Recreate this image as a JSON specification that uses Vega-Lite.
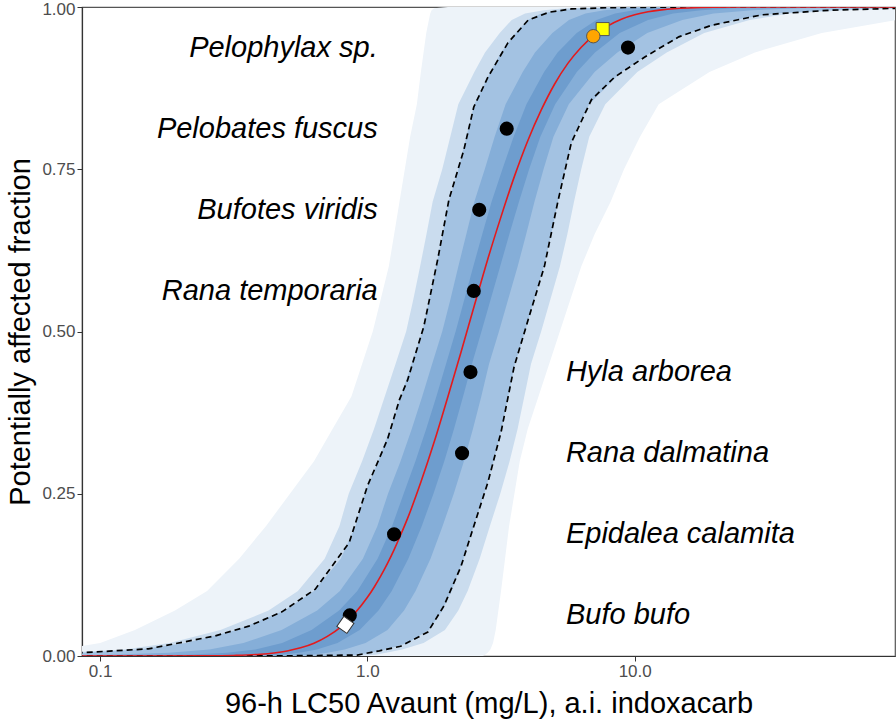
{
  "$schema": "https://vega.github.io/schema/vega-lite/v6.json",
  "width": 813,
  "height": 649,
  "autosize": {"type": "none"},
  "padding": {"left": 82, "top": 7, "right": 1, "bottom": 69},
  "background": "white",
  "config": {
    "view": {"stroke": "#555555", "strokeWidth": 1.2},
    "axis": {
      "grid": false,
      "domainColor": "#333333",
      "domainWidth": 1.2,
      "tickColor": "#333333",
      "tickSize": 5,
      "labelColor": "#4d4d4d",
      "labelFont": "Liberation Sans",
      "labelFontSize": 17,
      "labelPadding": 2,
      "titleFont": "Liberation Sans",
      "titleFontSize": 29,
      "titleFontWeight": "normal",
      "titleColor": "#000000"
    }
  },
  "datasets": {
    "bands": [
      {"band": "b1", "p": 0, "lo": 0.05, "hi": 2.7},
      {"band": "b1", "p": 0.002, "lo": 0.0398, "hi": 2.754},
      {"band": "b1", "p": 0.005, "lo": 0.0398, "hi": 2.818},
      {"band": "b1", "p": 0.01, "lo": 0.0708, "hi": 2.884},
      {"band": "b1", "p": 0.02, "lo": 0.1, "hi": 2.951},
      {"band": "b1", "p": 0.04, "lo": 0.1349, "hi": 3.02},
      {"band": "b1", "p": 0.07, "lo": 0.1905, "hi": 3.09},
      {"band": "b1", "p": 0.1, "lo": 0.2512, "hi": 3.162},
      {"band": "b1", "p": 0.15, "lo": 0.3311, "hi": 3.273},
      {"band": "b1", "p": 0.2, "lo": 0.4169, "hi": 3.388},
      {"band": "b1", "p": 0.25, "lo": 0.5129, "hi": 3.548},
      {"band": "b1", "p": 0.3, "lo": 0.631, "hi": 3.715},
      {"band": "b1", "p": 0.35, "lo": 0.7413, "hi": 3.981},
      {"band": "b1", "p": 0.4, "lo": 0.871, "hi": 4.365},
      {"band": "b1", "p": 0.45, "lo": 0.955, "hi": 4.786},
      {"band": "b1", "p": 0.5, "lo": 1.047, "hi": 5.248},
      {"band": "b1", "p": 0.55, "lo": 1.122, "hi": 5.754},
      {"band": "b1", "p": 0.6, "lo": 1.202, "hi": 6.31},
      {"band": "b1", "p": 0.65, "lo": 1.259, "hi": 7.079},
      {"band": "b1", "p": 0.7, "lo": 1.318, "hi": 8.128},
      {"band": "b1", "p": 0.75, "lo": 1.38, "hi": 9.12},
      {"band": "b1", "p": 0.8, "lo": 1.445, "hi": 10.47},
      {"band": "b1", "p": 0.85, "lo": 1.531, "hi": 12.3},
      {"band": "b1", "p": 0.9, "lo": 1.585, "hi": 19.05},
      {"band": "b1", "p": 0.93, "lo": 1.622, "hi": 28.18},
      {"band": "b1", "p": 0.96, "lo": 1.66, "hi": 50.12},
      {"band": "b1", "p": 0.98, "lo": 1.698, "hi": 95.5},
      {"band": "b1", "p": 0.99, "lo": 1.718, "hi": 158.5},
      {"band": "b1", "p": 0.995, "lo": 1.738, "hi": 199.5},
      {"band": "b1", "p": 0.998, "lo": 1.778, "hi": 251.2},
      {"band": "b1", "p": 1, "lo": 2.0, "hi": 300},

      {"band": "b2", "p": 0, "lo": 0.05, "hi": 0.912},
      {"band": "b2", "p": 0.002, "lo": 0.0347, "hi": 1.072},
      {"band": "b2", "p": 0.005, "lo": 0.0741, "hi": 1.175},
      {"band": "b2", "p": 0.01, "lo": 0.123, "hi": 1.349},
      {"band": "b2", "p": 0.02, "lo": 0.182, "hi": 1.622},
      {"band": "b2", "p": 0.04, "lo": 0.2818, "hi": 1.95},
      {"band": "b2", "p": 0.07, "lo": 0.4266, "hi": 2.188},
      {"band": "b2", "p": 0.1, "lo": 0.5495, "hi": 2.371},
      {"band": "b2", "p": 0.15, "lo": 0.6918, "hi": 2.63},
      {"band": "b2", "p": 0.2, "lo": 0.7852, "hi": 2.871},
      {"band": "b2", "p": 0.25, "lo": 0.8511, "hi": 3.141},
      {"band": "b2", "p": 0.3, "lo": 0.955, "hi": 3.404},
      {"band": "b2", "p": 0.35, "lo": 1.059, "hi": 3.648},
      {"band": "b2", "p": 0.4, "lo": 1.161, "hi": 3.864},
      {"band": "b2", "p": 0.45, "lo": 1.274, "hi": 4.093},
      {"band": "b2", "p": 0.5, "lo": 1.396, "hi": 4.467},
      {"band": "b2", "p": 0.55, "lo": 1.486, "hi": 4.842},
      {"band": "b2", "p": 0.6, "lo": 1.574, "hi": 5.248},
      {"band": "b2", "p": 0.65, "lo": 1.663, "hi": 5.598},
      {"band": "b2", "p": 0.7, "lo": 1.754, "hi": 5.929},
      {"band": "b2", "p": 0.75, "lo": 1.905, "hi": 6.31},
      {"band": "b2", "p": 0.8, "lo": 2.042, "hi": 6.761},
      {"band": "b2", "p": 0.85, "lo": 2.188, "hi": 7.762},
      {"band": "b2", "p": 0.9, "lo": 2.512, "hi": 10.23},
      {"band": "b2", "p": 0.93, "lo": 2.754, "hi": 13.18},
      {"band": "b2", "p": 0.96, "lo": 3.126, "hi": 18.2},
      {"band": "b2", "p": 0.98, "lo": 3.467, "hi": 26.92},
      {"band": "b2", "p": 0.99, "lo": 3.89, "hi": 38.02},
      {"band": "b2", "p": 0.995, "lo": 4.571, "hi": 61.66},
      {"band": "b2", "p": 0.998, "lo": 5.495, "hi": 109.6},
      {"band": "b2", "p": 1, "lo": 8.9, "hi": 300},

      {"band": "b3", "p": 0, "lo": 0.05, "hi": 0.794},
      {"band": "b3", "p": 0.002, "lo": 0.0398, "hi": 0.933},
      {"band": "b3", "p": 0.005, "lo": 0.0851, "hi": 1.023},
      {"band": "b3", "p": 0.01, "lo": 0.1413, "hi": 1.175},
      {"band": "b3", "p": 0.02, "lo": 0.2089, "hi": 1.413},
      {"band": "b3", "p": 0.04, "lo": 0.3236, "hi": 1.698},
      {"band": "b3", "p": 0.07, "lo": 0.4898, "hi": 1.905},
      {"band": "b3", "p": 0.1, "lo": 0.631, "hi": 2.065},
      {"band": "b3", "p": 0.15, "lo": 0.7943, "hi": 2.291},
      {"band": "b3", "p": 0.2, "lo": 0.9016, "hi": 2.5},
      {"band": "b3", "p": 0.25, "lo": 0.9772, "hi": 2.735},
      {"band": "b3", "p": 0.3, "lo": 1.0965, "hi": 2.965},
      {"band": "b3", "p": 0.35, "lo": 1.216, "hi": 3.177},
      {"band": "b3", "p": 0.4, "lo": 1.334, "hi": 3.365},
      {"band": "b3", "p": 0.45, "lo": 1.462, "hi": 3.565},
      {"band": "b3", "p": 0.5, "lo": 1.603, "hi": 3.89},
      {"band": "b3", "p": 0.55, "lo": 1.706, "hi": 4.217},
      {"band": "b3", "p": 0.6, "lo": 1.807, "hi": 4.571},
      {"band": "b3", "p": 0.65, "lo": 1.91, "hi": 4.875},
      {"band": "b3", "p": 0.7, "lo": 2.014, "hi": 5.164},
      {"band": "b3", "p": 0.75, "lo": 2.188, "hi": 5.495},
      {"band": "b3", "p": 0.8, "lo": 2.344, "hi": 5.888},
      {"band": "b3", "p": 0.85, "lo": 2.512, "hi": 6.761},
      {"band": "b3", "p": 0.9, "lo": 2.884, "hi": 8.913},
      {"band": "b3", "p": 0.93, "lo": 3.162, "hi": 11.48},
      {"band": "b3", "p": 0.96, "lo": 3.589, "hi": 15.85},
      {"band": "b3", "p": 0.98, "lo": 3.981, "hi": 23.44},
      {"band": "b3", "p": 0.99, "lo": 4.467, "hi": 33.11},
      {"band": "b3", "p": 0.995, "lo": 5.248, "hi": 53.7},
      {"band": "b3", "p": 0.998, "lo": 6.31, "hi": 95.5},
      {"band": "b3", "p": 1, "lo": 10, "hi": 300},

      {"band": "b4", "p": 0, "lo": 0.05, "hi": 0.447},
      {"band": "b4", "p": 0.002, "lo": 0.109, "hi": 0.618},
      {"band": "b4", "p": 0.005, "lo": 0.181, "hi": 0.71},
      {"band": "b4", "p": 0.01, "lo": 0.2564, "hi": 0.8222},
      {"band": "b4", "p": 0.02, "lo": 0.3436, "hi": 0.984},
      {"band": "b4", "p": 0.04, "lo": 0.4775, "hi": 1.189},
      {"band": "b4", "p": 0.07, "lo": 0.6486, "hi": 1.371},
      {"band": "b4", "p": 0.1, "lo": 0.7889, "hi": 1.514},
      {"band": "b4", "p": 0.15, "lo": 0.9616, "hi": 1.722},
      {"band": "b4", "p": 0.2, "lo": 1.089, "hi": 1.91},
      {"band": "b4", "p": 0.25, "lo": 1.194, "hi": 2.104},
      {"band": "b4", "p": 0.3, "lo": 1.33, "hi": 2.296},
      {"band": "b4", "p": 0.35, "lo": 1.466, "hi": 2.483},
      {"band": "b4", "p": 0.4, "lo": 1.603, "hi": 2.667},
      {"band": "b4", "p": 0.45, "lo": 1.746, "hi": 2.851},
      {"band": "b4", "p": 0.5, "lo": 1.905, "hi": 3.105},
      {"band": "b4", "p": 0.55, "lo": 2.046, "hi": 3.365},
      {"band": "b4", "p": 0.6, "lo": 2.188, "hi": 3.648},
      {"band": "b4", "p": 0.65, "lo": 2.344, "hi": 3.926},
      {"band": "b4", "p": 0.7, "lo": 2.512, "hi": 4.217},
      {"band": "b4", "p": 0.75, "lo": 2.748, "hi": 4.56},
      {"band": "b4", "p": 0.8, "lo": 2.992, "hi": 4.966},
      {"band": "b4", "p": 0.85, "lo": 3.289, "hi": 5.668},
      {"band": "b4", "p": 0.9, "lo": 3.811, "hi": 7.079},
      {"band": "b4", "p": 0.93, "lo": 4.236, "hi": 8.61},
      {"band": "b4", "p": 0.96, "lo": 4.92, "hi": 11.14},
      {"band": "b4", "p": 0.98, "lo": 5.675, "hi": 15.07},
      {"band": "b4", "p": 0.99, "lo": 6.546, "hi": 19.72},
      {"band": "b4", "p": 0.995, "lo": 7.691, "hi": 27.61},
      {"band": "b4", "p": 0.998, "lo": 9.268, "hi": 41.3},
      {"band": "b4", "p": 1, "lo": 20, "hi": 300},

      {"band": "b5", "p": 0, "lo": 0.05, "hi": 0.282},
      {"band": "b5", "p": 0.002, "lo": 0.213, "hi": 0.469},
      {"band": "b5", "p": 0.005, "lo": 0.298, "hi": 0.555},
      {"band": "b5", "p": 0.01, "lo": 0.3811, "hi": 0.6471},
      {"band": "b5", "p": 0.02, "lo": 0.4797, "hi": 0.7727},
      {"band": "b5", "p": 0.04, "lo": 0.618, "hi": 0.9354},
      {"band": "b5", "p": 0.07, "lo": 0.7834, "hi": 1.1},
      {"band": "b5", "p": 0.1, "lo": 0.9162, "hi": 1.233},
      {"band": "b5", "p": 0.15, "lo": 1.0914, "hi": 1.422},
      {"band": "b5", "p": 0.2, "lo": 1.236, "hi": 1.596},
      {"band": "b5", "p": 0.25, "lo": 1.366, "hi": 1.766},
      {"band": "b5", "p": 0.3, "lo": 1.512, "hi": 1.939},
      {"band": "b5", "p": 0.35, "lo": 1.66, "hi": 2.109},
      {"band": "b5", "p": 0.4, "lo": 1.811, "hi": 2.28},
      {"band": "b5", "p": 0.45, "lo": 1.968, "hi": 2.46},
      {"band": "b5", "p": 0.5, "lo": 2.138, "hi": 2.671},
      {"band": "b5", "p": 0.55, "lo": 2.307, "hi": 2.894},
      {"band": "b5", "p": 0.6, "lo": 2.489, "hi": 3.137},
      {"band": "b5", "p": 0.65, "lo": 2.689, "hi": 3.396},
      {"band": "b5", "p": 0.7, "lo": 2.914, "hi": 3.69},
      {"band": "b5", "p": 0.75, "lo": 3.199, "hi": 4.027},
      {"band": "b5", "p": 0.8, "lo": 3.524, "hi": 4.436},
      {"band": "b5", "p": 0.85, "lo": 3.936, "hi": 5.041},
      {"band": "b5", "p": 0.9, "lo": 4.581, "hi": 6.074},
      {"band": "b5", "p": 0.93, "lo": 5.146, "hi": 7.104},
      {"band": "b5", "p": 0.96, "lo": 6.067, "hi": 8.79},
      {"band": "b5", "p": 0.98, "lo": 7.194, "hi": 11.22},
      {"band": "b5", "p": 0.99, "lo": 8.453, "hi": 13.93},
      {"band": "b5", "p": 0.995, "lo": 9.908, "hi": 17.73},
      {"band": "b5", "p": 0.998, "lo": 11.99, "hi": 23.66},
      {"band": "b5", "p": 1, "lo": 31.6, "hi": 300}
    ],
    "curves": [
      {"curve": "upper", "x": 0.0631, "p": 0.003},
      {"curve": "upper", "x": 0.0851, "p": 0.005},
      {"curve": "upper", "x": 0.1514, "p": 0.011},
      {"curve": "upper", "x": 0.2692, "p": 0.031},
      {"curve": "upper", "x": 0.3597, "p": 0.046},
      {"curve": "upper", "x": 0.4786, "p": 0.068},
      {"curve": "upper", "x": 0.6383, "p": 0.103},
      {"curve": "upper", "x": 0.8551, "p": 0.175},
      {"curve": "upper", "x": 1.0, "p": 0.262},
      {"curve": "upper", "x": 1.189, "p": 0.334},
      {"curve": "upper", "x": 1.318, "p": 0.395},
      {"curve": "upper", "x": 1.413, "p": 0.425},
      {"curve": "upper", "x": 1.626, "p": 0.508},
      {"curve": "upper", "x": 1.832, "p": 0.611},
      {"curve": "upper", "x": 2.018, "p": 0.703},
      {"curve": "upper", "x": 2.296, "p": 0.78},
      {"curve": "upper", "x": 2.5, "p": 0.846},
      {"curve": "upper", "x": 2.825, "p": 0.892},
      {"curve": "upper", "x": 3.357, "p": 0.945},
      {"curve": "upper", "x": 3.999, "p": 0.98},
      {"curve": "upper", "x": 4.786, "p": 0.992},
      {"curve": "upper", "x": 5.794, "p": 0.997},
      {"curve": "upper", "x": 7.943, "p": 0.999},
      {"curve": "upper", "x": 15.85, "p": 1.0},
      {"curve": "upper", "x": 100, "p": 1.0},

      {"curve": "lower", "x": 0.0631, "p": 0.0},
      {"curve": "lower", "x": 0.501, "p": 0.0003},
      {"curve": "lower", "x": 0.916, "p": 0.0015},
      {"curve": "lower", "x": 1.109, "p": 0.008},
      {"curve": "lower", "x": 1.33, "p": 0.015},
      {"curve": "lower", "x": 1.683, "p": 0.037},
      {"curve": "lower", "x": 1.932, "p": 0.077},
      {"curve": "lower", "x": 2.239, "p": 0.138},
      {"curve": "lower", "x": 2.5, "p": 0.2},
      {"curve": "lower", "x": 2.825, "p": 0.268},
      {"curve": "lower", "x": 3.162, "p": 0.345},
      {"curve": "lower", "x": 3.54, "p": 0.446},
      {"curve": "lower", "x": 4.102, "p": 0.534},
      {"curve": "lower", "x": 4.592, "p": 0.6},
      {"curve": "lower", "x": 5.176, "p": 0.703},
      {"curve": "lower", "x": 5.794, "p": 0.791},
      {"curve": "lower", "x": 6.887, "p": 0.857},
      {"curve": "lower", "x": 8.414, "p": 0.892},
      {"curve": "lower", "x": 10.91, "p": 0.923},
      {"curve": "lower", "x": 14.62, "p": 0.954},
      {"curve": "lower", "x": 19.45, "p": 0.972},
      {"curve": "lower", "x": 29.99, "p": 0.988},
      {"curve": "lower", "x": 53.58, "p": 0.995},
      {"curve": "lower", "x": 94.84, "p": 0.998},
      {"curve": "lower", "x": 125.9, "p": 0.999},

      {"curve": "median", "x": 0.0851, "p": 0.0},
      {"curve": "median", "x": 0.1585, "p": 0.00001},
      {"curve": "median", "x": 0.2512, "p": 0.0002},
      {"curve": "median", "x": 0.3162, "p": 0.00085},
      {"curve": "median", "x": 0.3981, "p": 0.0027},
      {"curve": "median", "x": 0.4467, "p": 0.0047},
      {"curve": "median", "x": 0.5012, "p": 0.0078},
      {"curve": "median", "x": 0.5623, "p": 0.0126},
      {"curve": "median", "x": 0.631, "p": 0.0197},
      {"curve": "median", "x": 0.7079, "p": 0.0302},
      {"curve": "median", "x": 0.7943, "p": 0.0446},
      {"curve": "median", "x": 0.8913, "p": 0.0645},
      {"curve": "median", "x": 1.0, "p": 0.0904},
      {"curve": "median", "x": 1.0593, "p": 0.106},
      {"curve": "median", "x": 1.122, "p": 0.1234},
      {"curve": "median", "x": 1.1885, "p": 0.1427},
      {"curve": "median", "x": 1.259, "p": 0.164},
      {"curve": "median", "x": 1.3335, "p": 0.1872},
      {"curve": "median", "x": 1.413, "p": 0.212},
      {"curve": "median", "x": 1.585, "p": 0.268},
      {"curve": "median", "x": 1.778, "p": 0.33},
      {"curve": "median", "x": 1.995, "p": 0.398},
      {"curve": "median", "x": 2.239, "p": 0.468},
      {"curve": "median", "x": 2.512, "p": 0.54},
      {"curve": "median", "x": 2.818, "p": 0.611},
      {"curve": "median", "x": 3.162, "p": 0.677},
      {"curve": "median", "x": 3.548, "p": 0.739},
      {"curve": "median", "x": 3.981, "p": 0.794},
      {"curve": "median", "x": 4.467, "p": 0.841},
      {"curve": "median", "x": 5.012, "p": 0.881},
      {"curve": "median", "x": 5.623, "p": 0.9131},
      {"curve": "median", "x": 6.31, "p": 0.938},
      {"curve": "median", "x": 7.079, "p": 0.9572},
      {"curve": "median", "x": 7.943, "p": 0.971},
      {"curve": "median", "x": 8.913, "p": 0.9812},
      {"curve": "median", "x": 10.0, "p": 0.988},
      {"curve": "median", "x": 11.22, "p": 0.9926},
      {"curve": "median", "x": 12.59, "p": 0.9956},
      {"curve": "median", "x": 15.85, "p": 0.9985},
      {"curve": "median", "x": 25.12, "p": 0.9999},
      {"curve": "median", "x": 39.81, "p": 1.0},
      {"curve": "median", "x": 96.6, "p": 1.0}
    ],
    "species": [
      {"species": "Bufo bufo", "lc50": 0.859, "frac": 0.0625, "side": "right"},
      {"species": "Epidalea calamita", "lc50": 1.258, "frac": 0.1875, "side": "right"},
      {"species": "Rana dalmatina", "lc50": 2.26, "frac": 0.3125, "side": "right"},
      {"species": "Hyla arborea", "lc50": 2.43, "frac": 0.4375, "side": "right"},
      {"species": "Rana temporaria", "lc50": 2.5, "frac": 0.5625, "side": "left"},
      {"species": "Bufotes viridis", "lc50": 2.62, "frac": 0.6875, "side": "left"},
      {"species": "Pelobates fuscus", "lc50": 3.32, "frac": 0.8125, "side": "left"},
      {"species": "Pelophylax sp.", "lc50": 9.44, "frac": 0.9375, "side": "left"}
    ],
    "markers": [
      {"kind": "HC5", "x": 0.827, "p": 0.048},
      {"kind": "HC95", "x": 7.0, "p": 0.955},
      {"kind": "max", "x": 7.59, "p": 0.966}
    ]
  },
  "layer": [
    {
      "data": {"name": "bands"},
      "transform": [{"filter": "datum.band === 'b1'"}],
      "mark": {"type": "area", "orient": "horizontal", "color": "#edf3f9", "clip": true},
      "encoding": {
        "y": {"field": "p", "type": "quantitative", "scale": {"domain": [0, 1], "nice": false, "zero": false},
              "axis": {"title": "Potentially affected fraction", "values": [0, 0.25, 0.5, 0.75, 1], "format": ".2f", "titlePadding": 6,
                       "labelOffset": {"condition": {"test": "datum.value === 1", "value": 2}, "value": 0}}},
        "x": {"field": "lo", "type": "quantitative", "scale": {"type": "log", "domain": [0.0855, 94.2], "nice": false},
              "axis": {"title": "96-h LC50 Avaunt (mg/L), a.i. indoxacarb", "values": [0.1, 1, 10], "format": ".1f", "titlePadding": 10}},
        "x2": {"field": "hi"}
      }
    },
    {
      "data": {"name": "bands"},
      "transform": [{"filter": "datum.band === 'b2'"}],
      "mark": {"type": "area", "orient": "horizontal", "color": "#cadcee", "clip": true},
      "encoding": {"y": {"field": "p", "type": "quantitative"}, "x": {"field": "lo", "type": "quantitative"}, "x2": {"field": "hi"}}
    },
    {
      "data": {"name": "bands"},
      "transform": [{"filter": "datum.band === 'b3'"}],
      "mark": {"type": "area", "orient": "horizontal", "color": "#a3c2e2", "clip": true},
      "encoding": {"y": {"field": "p", "type": "quantitative"}, "x": {"field": "lo", "type": "quantitative"}, "x2": {"field": "hi"}}
    },
    {
      "data": {"name": "bands"},
      "transform": [{"filter": "datum.band === 'b4'"}],
      "mark": {"type": "area", "orient": "horizontal", "color": "#85aed8", "clip": true},
      "encoding": {"y": {"field": "p", "type": "quantitative"}, "x": {"field": "lo", "type": "quantitative"}, "x2": {"field": "hi"}}
    },
    {
      "data": {"name": "bands"},
      "transform": [{"filter": "datum.band === 'b5'"}],
      "mark": {"type": "area", "orient": "horizontal", "color": "#6e9dce", "clip": true},
      "encoding": {"y": {"field": "p", "type": "quantitative"}, "x": {"field": "lo", "type": "quantitative"}, "x2": {"field": "hi"}}
    },
    {
      "data": {"name": "curves"},
      "transform": [{"filter": "datum.curve !== 'median'"}],
      "mark": {"type": "line", "color": "#000000", "strokeDash": [6, 4], "strokeWidth": 1.7, "clip": true},
      "encoding": {"x": {"field": "x", "type": "quantitative"}, "y": {"field": "p", "type": "quantitative"}, "detail": {"field": "curve"}}
    },
    {
      "data": {"name": "curves"},
      "transform": [{"filter": "datum.curve === 'median'"}],
      "mark": {"type": "line", "color": "#e41a1c", "strokeWidth": 1.6, "clip": true, "interpolate": "monotone"},
      "encoding": {"x": {"field": "x", "type": "quantitative"}, "y": {"field": "p", "type": "quantitative"}}
    },
    {
      "data": {"name": "species"},
      "mark": {"type": "point", "shape": "circle", "filled": true, "color": "#000000", "size": 200, "opacity": 1},
      "encoding": {"x": {"field": "lc50", "type": "quantitative"}, "y": {"field": "frac", "type": "quantitative"}}
    },
    {
      "data": {"name": "markers"},
      "transform": [{"filter": "datum.kind === 'max'"}],
      "mark": {"type": "point", "shape": "square", "filled": true, "fill": "#ffff00", "stroke": "#555555", "strokeWidth": 1, "size": 170, "opacity": 1},
      "encoding": {"x": {"field": "x", "type": "quantitative"}, "y": {"field": "p", "type": "quantitative"}}
    },
    {
      "data": {"name": "markers"},
      "transform": [{"filter": "datum.kind === 'HC95'"}],
      "mark": {"type": "point", "shape": "circle", "filled": true, "fill": "#ffa500", "stroke": "#555555", "strokeWidth": 1, "size": 180, "opacity": 1},
      "encoding": {"x": {"field": "x", "type": "quantitative"}, "y": {"field": "p", "type": "quantitative"}}
    },
    {
      "data": {"name": "markers"},
      "transform": [{"filter": "datum.kind === 'HC5'"}],
      "mark": {"type": "point", "shape": "square", "angle": 35, "filled": true, "fill": "#ffffff", "stroke": "#333333", "strokeWidth": 1, "size": 150, "opacity": 1},
      "encoding": {"x": {"field": "x", "type": "quantitative"}, "y": {"field": "p", "type": "quantitative"}}
    },
    {
      "data": {"name": "species"},
      "transform": [{"filter": "datum.side === 'left'"}],
      "mark": {"type": "text", "align": "right", "baseline": "middle", "font": "Liberation Sans", "fontStyle": "italic", "fontSize": 29, "color": "#000000"},
      "encoding": {"x": {"datum": 1.093, "type": "quantitative"}, "y": {"field": "frac", "type": "quantitative"}, "text": {"field": "species"}}
    },
    {
      "data": {"name": "species"},
      "transform": [{"filter": "datum.side === 'right'"}],
      "mark": {"type": "text", "align": "left", "baseline": "middle", "font": "Liberation Sans", "fontStyle": "italic", "fontSize": 29, "color": "#000000"},
      "encoding": {"x": {"datum": 5.53, "type": "quantitative"}, "y": {"field": "frac", "type": "quantitative"}, "text": {"field": "species"}}
    }
  ]
}
